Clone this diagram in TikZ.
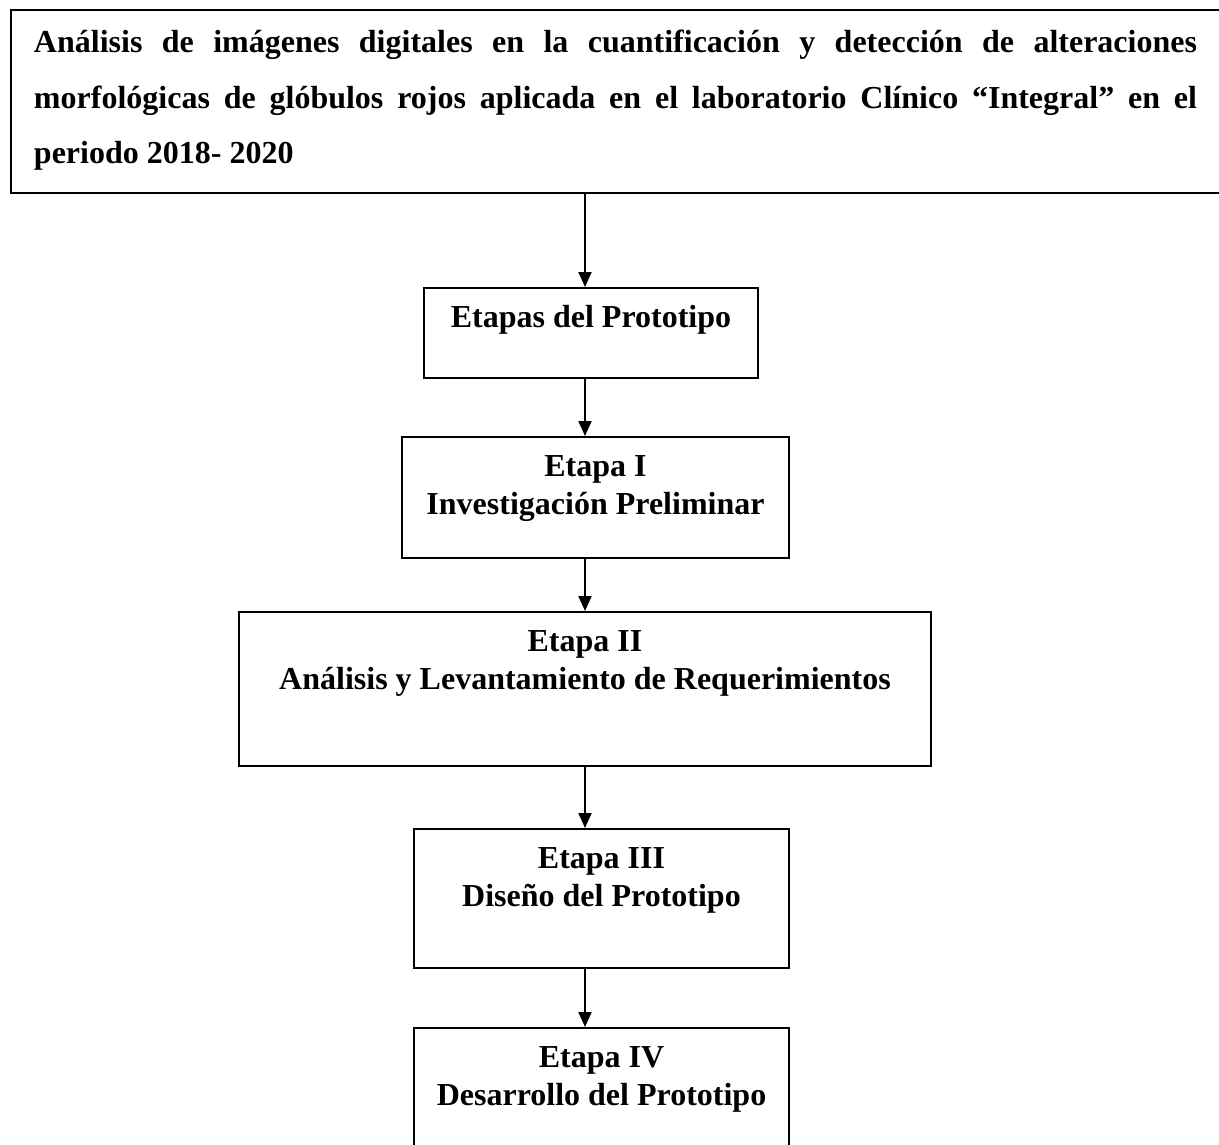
\documentclass[tikz,border=0pt]{standalone}
\usepackage{fontspec}
\setmainfont{Liberation Serif}
\usepackage{tikz}
\usetikzlibrary{arrows.meta}

% texto de cada etapa, alineado arriba dentro de la caja
\newcommand{\textoetapa}[3]{\parbox[t][#2][t]{#1}{\centering\rule{0pt}{39pt}#3}}

\begin{document}
\begin{tikzpicture}[x=1pt, y=-1pt,
    caja/.style={draw, line width=2pt, inner sep=0pt, anchor=north,
      font=\bfseries\fontsize{32}{38}\selectfont},
    flecha/.style={line width=2pt, -{Triangle[length=15pt, width=13pt]}}]
  \useasboundingbox (0,0) rectangle (1219,1145);
  \clip (0,0) rectangle (1219,1145);
  \coordinate (eje) at (585,0);

  % titulo
  \node[caja, anchor=north west, font=\bfseries\fontsize{32}{55.5}\selectfont] (titulo) at (10,9) {%
    \rule{23pt}{0pt}\parbox[t][183pt][t]{1163pt}{\tolerance=10000\hyphenpenalty=10000
      \rule{0pt}{43pt}Análisis de imágenes digitales en la cuantificación y detección de alteraciones\linebreak
      morfológicas de glóbulos rojos aplicada en el laboratorio Clínico “Integral” en el\linebreak
      periodo 2018- 2020}\rule{60pt}{0pt}};

  % etapas
  \node[caja] (prototipo) at (591,287) {\textoetapa{334pt}{90pt}{Etapas del Prototipo}};
  \node[caja] (etapaI) at (595.5,436) {\textoetapa{387pt}{121pt}{Etapa I\\Investigación Preliminar}};
  \node[caja] (etapaII) at (585,611) {\textoetapa{692pt}{154pt}{Etapa II\\Análisis y Levantamiento de Requerimientos}};
  \node[caja] (etapaIII) at (601.5,828) {\textoetapa{375pt}{139pt}{Etapa III\\Diseño del Prototipo}};
  \node[caja] (etapaIV) at (601.5,1027) {\textoetapa{375pt}{139pt}{Etapa IV\\Desarrollo del Prototipo}};

  \draw[flecha] (titulo.south -| eje) -- (prototipo.north -| eje);
  \draw[flecha] (prototipo.south -| eje) -- (etapaI.north -| eje);
  \draw[flecha] (etapaI.south -| eje) -- (etapaII.north -| eje);
  \draw[flecha] (etapaII.south -| eje) -- (etapaIII.north -| eje);
  \draw[flecha] (etapaIII.south -| eje) -- (etapaIV.north -| eje);
\end{tikzpicture}
\end{document}
